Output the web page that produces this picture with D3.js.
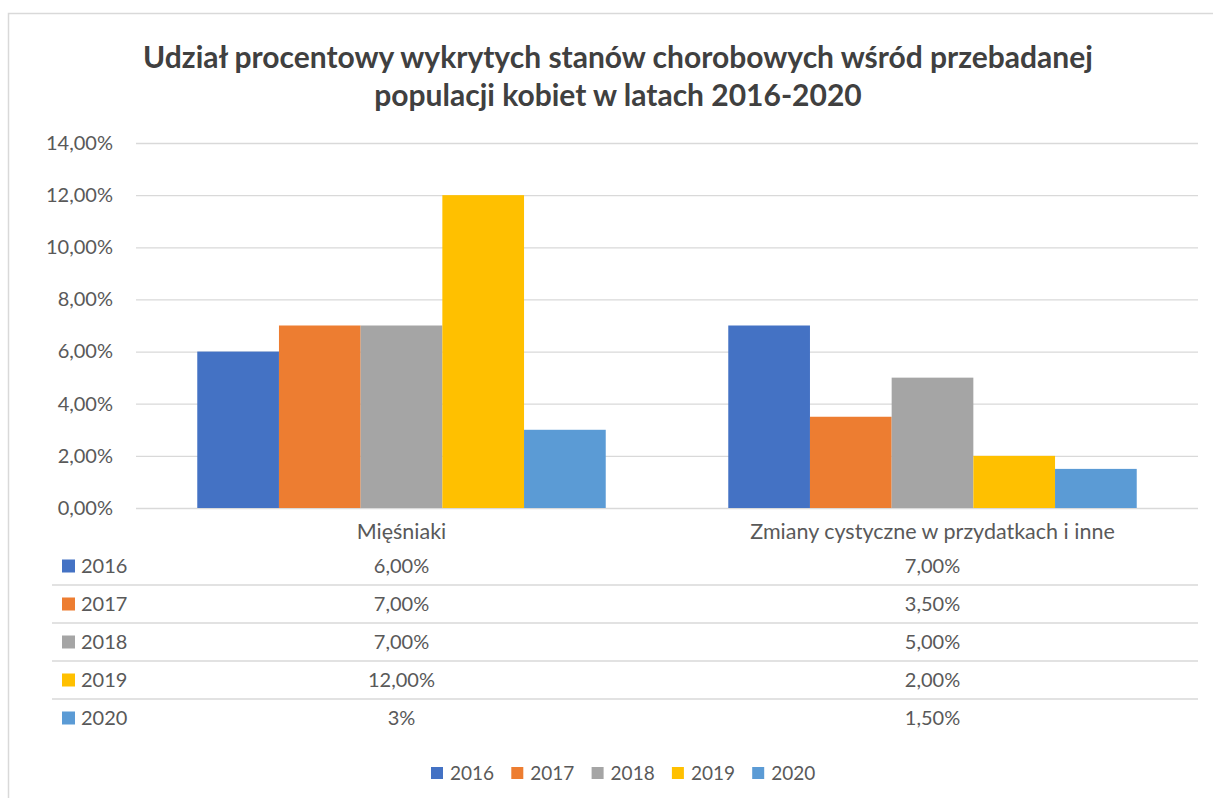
<!DOCTYPE html>
<html>
<head>
<meta charset="utf-8">
<script src="https://cdn.jsdelivr.net/npm/d3@7"></script>
<style>
  body { margin: 0; background: #fff; }
  text { font-family: Lato, "Open Sans", sans-serif; }
</style>
</head>
<body>
<svg id="chart"></svg>
<script>
// categories and series
var categories = ["Mięśniaki", "Zmiany cystyczne w przydatkach i inne"];
var years = ["2016", "2017", "2018", "2019", "2020"];
var colors = ["#4472C4", "#ED7D31", "#A5A5A5", "#FFC000", "#5B9BD5"];

// values per year, one entry per category
var values2016 = [0.06, 0.07];
var values2017 = [0.07, 0.035];
var values2018 = [0.07, 0.05];
var values2019 = [0.12, 0.02];
var values2020 = [0.03, 0.015];

// labels as they appear in the data table
var labels2016 = ["6,00%", "7,00%"];
var labels2017 = ["7,00%", "3,50%"];
var labels2018 = ["7,00%", "5,00%"];
var labels2019 = ["12,00%", "2,00%"];
var labels2020 = ["3%", "1,50%"];

var yTicks = [0, 0.02, 0.04, 0.06, 0.08, 0.10, 0.12, 0.14];

var titleLines = ["Udział procentowy wykrytych stanów chorobowych wśród przebadanej",
                  "populacji kobiet w latach 2016-2020"];

var seriesValues = [values2016, values2017, values2018, values2019, values2020];
var seriesLabels = [labels2016, labels2017, labels2018, labels2019, labels2020];

var screen = {width: 1213, height: 798};
var plot = {left: 136, right: 1198, top: 143, bottom: 508};

var svg = d3.select("#chart")
    .attr("width", screen.width)
    .attr("height", screen.height);

// chart frame
svg.append("rect")
    .attr("x", 8.5).attr("y", 13.5)
    .attr("width", 1230).attr("height", 820)
    .attr("fill", "#fff")
    .attr("stroke", "#D9D9D9")
    .attr("stroke-width", 1.5);

// title
svg.append("g").selectAll("text")
    .data(titleLines)
    .enter().append("text")
    .attr("x", 618)
    .attr("y", function(d, i) { return 57 + i * 38; })
    .attr("dy", "0.35em")
    .attr("text-anchor", "middle")
    .attr("font-size", 30)
    .attr("font-weight", "bold")
    .attr("fill", "#404040")
    .text(function(d) { return d; });

// scales
var xScale = d3.scaleBand()
    .domain(categories)
    .range([plot.left, plot.right])
    .padding(0);

var x1 = d3.scaleBand()
    .domain(years)
    .range([0, xScale.bandwidth()])
    .paddingInner(0)
    .paddingOuter(0.75);

var yScale = d3.scaleLinear()
    .domain([0, 0.14])
    .range([plot.bottom, plot.top]);

var pl = d3.formatLocale({decimal: ",", thousands: " ", grouping: [3], currency: ["", " zł"]});
var pct = pl.format(".2%");

// gridlines
var yAxis = d3.axisLeft(yScale)
    .tickValues(yTicks)
    .tickSize(-(plot.right - plot.left))
    .tickPadding(23)
    .tickFormat(pct);

var ga = svg.append("g")
    .attr("transform", "translate(" + plot.left + ",0)")
    .call(yAxis);
ga.select(".domain").remove();
ga.selectAll(".tick line").attr("stroke", "#D9D9D9").attr("stroke-width", 1.3);
ga.selectAll(".tick text")
    .attr("font-size", 20)
    .attr("fill", "#595959")
    .style("font-family", "Lato, sans-serif");

// bars
var groups = svg.append("g").selectAll("g")
    .data(years)
    .enter().append("g")
    .attr("fill", function(d, i) { return colors[i]; });

groups.selectAll("rect")
    .data(function(d, i) {
        return categories.map(function(c, j) { return {cat: c, year: d, value: seriesValues[i][j]}; });
    })
    .enter().append("rect")
    .attr("x", function(d) { return xScale(d.cat) + x1(d.year); })
    .attr("width", x1.bandwidth())
    .attr("y", function(d) { return yScale(d.value); })
    .attr("height", function(d) { return yScale(0) - yScale(d.value); });

// category labels
svg.append("g").selectAll("text")
    .data(categories)
    .enter().append("text")
    .attr("x", function(d) { return xScale(d) + xScale.bandwidth() / 2; })
    .attr("y", 531)
    .attr("dy", "0.35em")
    .attr("text-anchor", "middle")
    .attr("font-size", 21.5)
    .attr("fill", "#595959")
    .text(function(d) { return d; });

// data table
var rowY = d3.scaleBand()
    .domain(years)
    .range([547, 737]);

var table = svg.append("g");

table.selectAll("line")
    .data(years.slice(1))
    .enter().append("line")
    .attr("x1", 52).attr("x2", plot.right)
    .attr("y1", function(d) { return rowY(d); })
    .attr("y2", function(d) { return rowY(d); })
    .attr("stroke", "#D9D9D9")
    .attr("stroke-width", 1.3);

var rows = table.selectAll("g.row")
    .data(years)
    .enter().append("g")
    .attr("class", "row")
    .attr("transform", function(d) { return "translate(0," + (rowY(d) + rowY.bandwidth() / 2) + ")"; });

rows.append("rect")
    .attr("x", 62).attr("y", -6.5)
    .attr("width", 13).attr("height", 13)
    .attr("fill", function(d, i) { return colors[i]; });

rows.append("text")
    .attr("x", 81)
    .attr("dy", "0.35em")
    .attr("font-size", 20)
    .attr("fill", "#595959")
    .text(function(d) { return d; });

rows.selectAll("text.val")
    .data(function(d, i) { return seriesLabels[i]; })
    .enter().append("text")
    .attr("class", "val")
    .attr("x", function(d, j) { return xScale(categories[j]) + xScale.bandwidth() / 2; })
    .attr("dy", "0.35em")
    .attr("text-anchor", "middle")
    .attr("font-size", 20)
    .attr("fill", "#595959")
    .text(function(d) { return d; });

// legend
var legend = svg.append("g").selectAll("g")
    .data(years)
    .enter().append("g")
    .attr("transform", function(d, i) { return "translate(" + (431 + i * 80.3) + ",773)"; });

legend.append("rect")
    .attr("y", -6).attr("width", 12).attr("height", 12)
    .attr("fill", function(d, i) { return colors[i]; });

legend.append("text")
    .attr("x", 19)
    .attr("dy", "0.35em")
    .attr("font-size", 19)
    .attr("fill", "#595959")
    .text(function(d) { return d; });
</script>
</body>
</html>
